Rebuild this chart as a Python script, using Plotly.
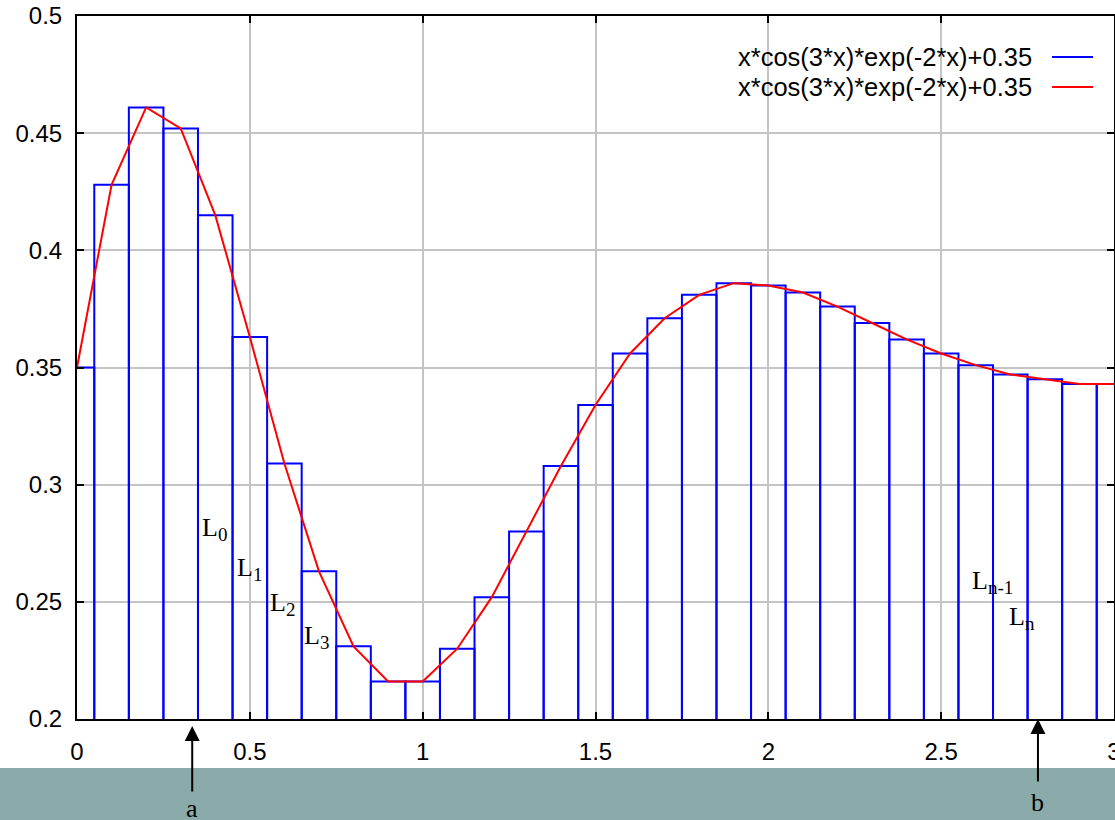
import plotly.graph_objects as go

# ---- data ----
x_vals = [0.0, 0.1, 0.2, 0.3, 0.4, 0.5, 0.6, 0.7, 0.8, 0.9, 1.0,
          1.1, 1.2, 1.3, 1.4, 1.5, 1.6, 1.7, 1.8, 1.9, 2.0,
          2.1, 2.2, 2.3, 2.4, 2.5, 2.6, 2.7, 2.8, 2.9, 3.0]
y_vals = [0.350, 0.428, 0.461, 0.452, 0.415, 0.363, 0.309, 0.263, 0.231, 0.216, 0.216,
          0.230, 0.252, 0.280, 0.308, 0.334, 0.356, 0.371, 0.381, 0.386, 0.385,
          0.382, 0.376, 0.369, 0.362, 0.356, 0.351, 0.347, 0.345, 0.343, 0.343]
box_width = 0.1
base_y = 0.2

legend_labels = ["x*cos(3*x)*exp(-2*x)+0.35", "x*cos(3*x)*exp(-2*x)+0.35"]
x_ticks = [0, 0.5, 1, 1.5, 2, 2.5, 3]
x_tick_text = ["0", "0.5", "1", "1.5", "2", "2.5", "3"]
y_ticks = [0.2, 0.25, 0.3, 0.35, 0.4, 0.45, 0.5]
y_tick_text = ["0.2", "0.25", "0.3", "0.35", "0.4", "0.45", "0.5"]

l_main = ["L", "L", "L", "L", "L", "L"]
l_subs = ["0", "1", "2", "3", "n-1", "n"]
l_x = [0.355, 0.457, 0.552, 0.650, 2.584, 2.690]
l_y = [0.281, 0.264, 0.249, 0.235, 0.2585, 0.243]

arrow_labels = ["a", "b"]
arrow_x = [1 / 3, 2.78]

# ---- box outlines (gnuplot "with boxes"), built from the data ----
box_x, box_y = [], []
for xv, yv in zip(x_vals, y_vals):
    x0, x1 = xv - box_width / 2, xv + box_width / 2
    box_x += [x0, x0, x1, x1, None]
    box_y += [base_y, yv, yv, base_y, None]

fig = go.Figure()
fig.add_trace(go.Scatter(
    x=box_x, y=box_y, mode="lines", line=dict(color="#0000ff", width=2),
    showlegend=False, hoverinfo="skip",
))
fig.add_trace(go.Scatter(
    x=x_vals, y=y_vals, mode="lines",
    line=dict(color="#ff0000", width=2), showlegend=False,
))

W, H = 1115, 820
ml, mr, mt, mb = 77, 1, 16, 101
pw, ph = W - ml - mr, H - mt - mb


def px_x(px):
    return (px - ml) / pw


def px_y(py):
    return (H - mb - py) / ph


shapes = []
annotations = []

# bottom band
shapes.append(dict(type="rect", xref="paper", yref="paper",
                   x0=px_x(-5), x1=px_x(W + 5), y0=px_y(H + 5), y1=px_y(768),
                   fillcolor="#8aabaa", line=dict(width=0), layer="below"))

# manual legend (gnuplot style: text then sample)
leg_colors = ["#0000ff", "#ff0000"]
leg_rows = [57, 87]
for lab, col, row in zip(legend_labels, leg_colors, leg_rows):
    annotations.append(dict(xref="paper", yref="paper", x=px_x(1034), y=px_y(row),
                            xanchor="right", yanchor="middle", showarrow=False,
                            text=lab, font=dict(family="Liberation Sans", size=25.5, color="black")))
    shapes.append(dict(type="line", xref="paper", yref="paper",
                       x0=px_x(1052), x1=px_x(1093), y0=px_y(row), y1=px_y(row),
                       line=dict(color=col, width=2)))

# L labels
for m, s, lx, ly in zip(l_main, l_subs, l_x, l_y):
    t = m + "<sub><span style='font-size:19px'>" + s + "</span></sub>"
    annotations.append(dict(x=lx, y=ly, xref="x", yref="y", text=t, showarrow=False,
                            xanchor="left", yanchor="middle",
                            font=dict(family="Liberation Serif", size=26, color="black")))

# arrows and a/b labels
arrow_tip_px = [726, 719]
arrow_tail_px = [793, 783]
label_px = [808, 802]
for lab, ax_, tip, tail, lp in zip(arrow_labels, arrow_x, arrow_tip_px, arrow_tail_px, label_px):
    annotations.append(dict(x=ax_, y=px_y(tip), xref="x", yref="paper", text="",
                            showarrow=True, ax=0, ay=tail - tip, arrowhead=2,
                            arrowsize=1.5, arrowwidth=2, arrowcolor="black"))
    annotations.append(dict(x=ax_, y=px_y(lp), xref="x", yref="paper", text=lab,
                            showarrow=False, xanchor="center", yanchor="middle",
                            font=dict(family="Liberation Serif", size=26, color="black")))

axis_common = dict(
    showgrid=True, gridcolor="#c4c4c4", gridwidth=1.5,
    ticks="inside", ticklen=7, tickwidth=2, tickcolor="black",
    showline=True, linecolor="black", linewidth=2, mirror="ticks",
    zeroline=False, automargin=False, ticklabeloverflow="allow",
    tickfont=dict(family="Liberation Sans", size=24, color="black"),
)

fig.update_layout(
    width=W, height=H,
    margin=dict(l=ml, r=mr, t=mt, b=mb),
    paper_bgcolor="white", plot_bgcolor="white",
    xaxis=dict(range=[0, 3], tickmode="array", tickvals=x_ticks, ticktext=x_tick_text,
               ticklabelstandoff=10, **axis_common),
    yaxis=dict(range=[0.2, 0.5], tickmode="array", tickvals=y_ticks, ticktext=y_tick_text,
               ticklabelstandoff=8, **axis_common),
    shapes=shapes, annotations=annotations,
)

fig.write_html("out.html", config={"displayModeBar": False},
               post_script="document.body.style.margin='0';")
